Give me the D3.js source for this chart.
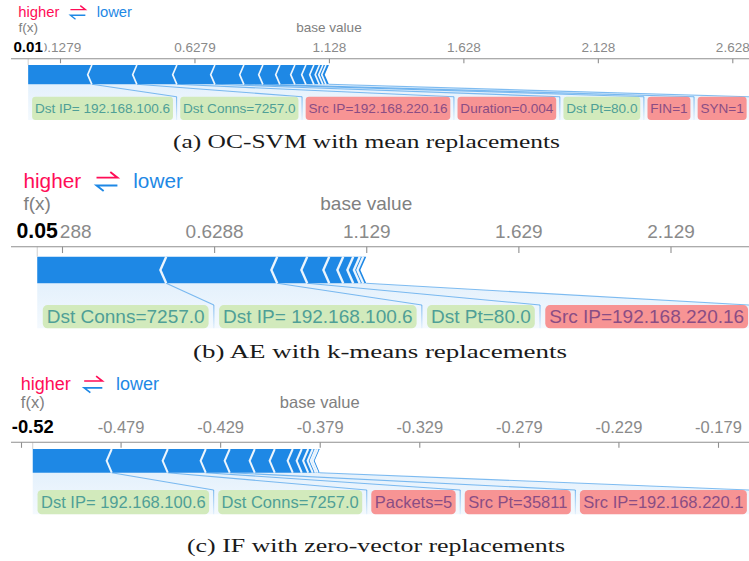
<!DOCTYPE html>
<html><head><meta charset="utf-8">
<script src="https://cdn.jsdelivr.net/npm/d3@7"></script>
<style>body{margin:0;background:#fff}svg{display:block}</style>
</head><body>
<svg id="chart" width="749" height="561"></svg>
<script>
// ---------------- data ----------------
const captions = ["(a) OC-SVM with mean replacements", "(b) AE with k-means replacements", "(c) IF with zero-vector replacements"];
const baseValues = [1.1279, 1.1288, -0.379];
const outputValues = [0.0095, 0.0474, -0.5231];
const outputLabels = ["0.01", "0.05", "-0.52"];

const tickValuesA = [0.1279, 0.6279, 1.1279, 1.6279, 2.1279, 2.6279];
const tickLabelsA = ["0.1279", "0.6279", "1.128", "1.628", "2.128", "2.628"];
const tickValuesB = [0.1288, 0.6288, 1.1288, 1.6288, 2.1288];
const tickLabelsB = ["0.1288", "0.6288", "1.129", "1.629", "2.129"];
const tickValuesC = [-0.529, -0.479, -0.429, -0.379, -0.329, -0.279, -0.229, -0.179];
const tickLabelsC = ["-0.529", "-0.479", "-0.429", "-0.379", "-0.329", "-0.279", "-0.229", "-0.179"];

// feature contributions (all pushing the output lower), largest first
const effectsA = [-0.2369, -0.1673, -0.1488, -0.1413, -0.1078, -0.0707, -0.0632, -0.0558, -0.0409, -0.0298, -0.0205, -0.0130, -0.0112, -0.0112];
const effectsB = [-0.4240, -0.3648, -0.0986, -0.0723, -0.0460, -0.0329, -0.0214, -0.0115, -0.0099];
const effectsC = [-0.03967, -0.02812, -0.01908, -0.01205, -0.01255, -0.01004, -0.00904, -0.00452, -0.00326, -0.00226, -0.00151, -0.00100, -0.00100];

const labelsA = ["Dst IP= 192.168.100.6", "Dst Conns=7257.0", "Src IP=192.168.220.16", "Duration=0.004", "Dst Pt=80.0", "FIN=1", "SYN=1"];
const kindsA = ["g", "g", "r", "r", "g", "r", "r"];
const labelsB = ["Dst Conns=7257.0", "Dst IP= 192.168.100.6", "Dst Pt=80.0", "Src IP=192.168.220.16"];
const kindsB = ["g", "g", "g", "r"];
const labelsC = ["Dst IP= 192.168.100.6", "Dst Conns=7257.0", "Packets=5", "Src Pt=35811", "Src IP=192.168.220.1"];
const kindsC = ["g", "g", "r", "r", "r"];

// ---------------- style / layout ----------------
const RED = "rgb(255,13,87)", BLUE = "rgb(30,136,229)";
const BOX = {g: {fill: "#d2eabc", text: "#4f9f96"}, r: {fill: "#f79494", text: "#8a4d84"}};
const FONT = "'Liberation Sans', Arial, Helvetica, sans-serif";
const SERIF = "'Liberation Serif', 'Times New Roman', serif";
const W = 749;
const layout = [
  {s: 1.13, x0: 60, x1: 732.3, hlY: 17, topY: 32, tickY: 52, axisY: 58.7, barTop: 65, barBot: 84.3, boxTop: 96.7, boxBot: 120, capY: 147.5, capX: 366.5, capW: 387, gap: 6.4},
  {s: 1.584, x0: 62, x1: 670.5, hlY: 188, topY: 210, tickY: 238, axisY: 246.7, barTop: 256.7, barBot: 283.3, boxTop: 305, boxBot: 328.3, capY: 358, capX: 380, capW: 374, gap: 6.6},
  {s: 1.375, x0: 21, x1: 718, hlY: 390, topY: 408, tickY: 433, axisY: 442.3, barTop: 449, barBot: 472.7, boxTop: 490, boxBot: 514.3, capY: 551.5, capX: 376, capW: 378, gap: 6.6}
];

const panels = [
  {ticks: tickValuesA, tickLabels: tickLabelsA, effects: effectsA, labels: labelsA, kinds: kindsA},
  {ticks: tickValuesB, tickLabels: tickLabelsB, effects: effectsB, labels: labelsB, kinds: kindsB},
  {ticks: tickValuesC, tickLabels: tickLabelsC, effects: effectsC, labels: labelsC, kinds: kindsC}
];

const svg = d3.select("#chart");
const defs = svg.append("defs");
const bg = defs.append("linearGradient").attr("id", "backGrad").attr("x1", 0).attr("y1", 0).attr("x2", 0).attr("y2", 1);
bg.append("stop").attr("offset", "0%").attr("stop-color", BLUE).attr("stop-opacity", 0.12);
bg.append("stop").attr("offset", "100%").attr("stop-color", BLUE).attr("stop-opacity", 0.05);
const dg = defs.append("linearGradient").attr("id", "divGrad").attr("x1", 0).attr("y1", 0).attr("x2", 0).attr("y2", 1);
dg.append("stop").attr("offset", "0%").attr("stop-color", BLUE).attr("stop-opacity", 0.55);
dg.append("stop").attr("offset", "100%").attr("stop-color", BLUE).attr("stop-opacity", 0.08);

function drawPanel(p, L, k) {
  const s = L.s;
  const g = svg.append("g");
  const x = d3.scaleLinear().domain([p.ticks[0], p.ticks[p.ticks.length - 1]]).range([L.x0, L.x1]);
  const fx = outputValues[k];
  const fxPx = x(fx);
  let cum = fx;
  const segs = p.effects.map(e => { const a = cum; cum += Math.abs(e); return {a, b: cum}; });
  const endPx = x(cum);
  const mid = (L.barTop + L.barBot) / 2;
  const sh = 3.7 * s;

  const gBack = g.append("g"), gLinks = g.append("g"), gBar = g.append("g"),
        gBoxes = g.append("g"), gAxis = g.append("g"), gTop = g.append("g");

  // ----- label boxes (packed left to right) -----
  const fs = 12 * s, pad = 2.5 * s, gap = L.gap * s;
  let cursor = fxPx + 3.5 * s;
  const boxes = [];
  p.labels.forEach((txt, i) => {
    const t = gBoxes.append("text").attr("font-family", FONT).attr("font-size", fs)
      .attr("fill", BOX[p.kinds[i]].text).text(txt);
    const w = t.node().getComputedTextLength();
    const bx = cursor, bw = w + 2 * pad;
    gBoxes.insert("rect", "text").attr("x", bx).attr("y", L.boxTop).attr("width", bw)
      .attr("height", L.boxBot - L.boxTop).attr("rx", 3 * s).attr("fill", BOX[p.kinds[i]].fill);
    t.attr("x", bx + pad).attr("y", (L.boxTop + L.boxBot) / 2 + 0.36 * fs);
    boxes.push({x: bx, w: bw});
    cursor += bw + gap;
  });
  const firstLeft = boxes[0].x - gap / 2;
  const lastB = boxes[boxes.length - 1];
  const rightEdge = Math.min(lastB.x + lastB.w + gap / 2, W);

  // ----- backing shade -----
  gBack.append("path").attr("d", d3.line()([
    [fxPx, L.barBot], [endPx, L.barBot], [rightEdge, L.boxTop], [rightEdge, L.boxBot],
    [Math.min(firstLeft, fxPx), L.boxBot], [Math.min(firstLeft, fxPx), L.boxTop]
  ]) + "Z").attr("fill", "url(#backGrad)");

  // ----- links & dividers -----
  boxes.forEach((b, i) => {
    const last = i === boxes.length - 1;
    const dx = last ? rightEdge : b.x + b.w + gap / 2;
    const sx = last ? endPx : x(segs[i].b);
    gLinks.append("line").attr("x1", sx).attr("y1", L.barBot).attr("x2", dx).attr("y2", L.boxTop)
      .attr("stroke", BLUE).attr("stroke-opacity", 0.55).attr("stroke-width", 1.1);
    if (!last) {
      gLinks.append("rect").attr("x", dx - 0.55).attr("y", L.boxTop).attr("width", 1.1)
        .attr("height", L.boxBot - L.boxTop).attr("fill", "url(#divGrad)");
    }
  });

  // ----- force bar -----
  gBar.selectAll("path.seg").data(segs).enter().append("path").attr("class", "seg")
    .attr("d", (d, i) => {
      const a = x(d.a), b = x(d.b);
      return d3.line()([[a, L.barTop], [b, L.barTop], [b - sh, mid], [b, L.barBot], [a, L.barBot], [i === 0 ? a : a - sh, mid]]) + "Z";
    })
    .attr("fill", BLUE);
  gBar.selectAll("path.sep").data(segs.slice(1)).enter().append("path").attr("class", "sep")
    .attr("d", d => { const a = x(d.a); return d3.line()([[a, L.barTop], [a - sh, mid], [a, L.barBot]]); })
    .attr("fill", "none").attr("stroke", "#fff").attr("stroke-opacity", 0.9).attr("stroke-width", 1.5 * s);

  // join point line
  gAxis.append("line").attr("x1", fxPx).attr("x2", fxPx).attr("y1", L.axisY).attr("y2", L.barTop)
    .attr("stroke", "#cfcfcf").attr("stroke-width", 1);

  // ----- axis -----
  gAxis.append("line").attr("x1", 11).attr("x2", W).attr("y1", L.axisY).attr("y2", L.axisY)
    .attr("stroke", "#8f8f8f").attr("stroke-width", 1.1);
  const ticksG = gAxis.append("g").attr("transform", `translate(0,${L.axisY})`)
    .call(d3.axisBottom(x).tickValues(p.ticks).tickFormat("").tickSize(4 * s).tickSizeOuter(0));
  ticksG.select(".domain").remove();
  ticksG.selectAll("line").attr("stroke", "#8f8f8f").attr("stroke-width", 1.1);
  const labG = gAxis.append("g").attr("transform", `translate(0,${L.tickY})`)
    .call(d3.axisTop(x).tickValues(p.ticks).tickFormat((d, i) => p.tickLabels[i]).tickSize(0).tickPadding(0));
  labG.select(".domain").remove();
  labG.selectAll("text").attr("font-family", FONT).attr("font-size", 12 * s).attr("fill", "#8a8a8a");

  // f(x) value label with white backing (hides the tick labels it sits on)
  const ofs = 13.4 * s;
  const ot = gTop.append("text").attr("x", fxPx).attr("y", L.tickY).attr("text-anchor", "middle")
    .attr("font-family", FONT).attr("font-size", ofs).attr("font-weight", "bold").attr("fill", "#000")
    .text(outputLabels[k]);
  const ow = ot.node().getComputedTextLength();
  gTop.insert("rect", "text").attr("x", 0).attr("y", L.tickY - ofs * 0.85)
    .attr("width", fxPx + ow / 2 + 1.5).attr("height", ofs * 1.05).attr("fill", "#fff");

  gTop.append("text").attr("x", fxPx).attr("y", L.topY).attr("text-anchor", "middle")
    .attr("font-family", FONT).attr("font-size", 12 * s).attr("fill", "#808080").text("f(x)");
  gTop.append("text").attr("x", x(baseValues[k])).attr("y", L.topY).attr("text-anchor", "middle")
    .attr("font-family", FONT).attr("font-size", 12 * s).attr("fill", "#808080").text("base value");

  // higher ⇄ lower
  const hfs = 13.1 * s;
  const hx = fxPx - 8.7 * s;
  const ht = gTop.append("text").attr("x", hx).attr("y", L.hlY).attr("font-family", FONT)
    .attr("font-size", hfs).attr("fill", RED).text("higher");
  const hw = ht.node().getComputedTextLength();
  const ax0 = hx + hw + 9.7 * s, ax1 = ax0 + 13.2 * s;
  const yT = L.hlY - 0.5 * hfs, yB = L.hlY - 0.12 * hfs;
  gTop.append("path").attr("d", d3.line()([[ax0, yT], [ax1, yT], [ax1 - 4.5 * s, yT - 3.5 * s]]))
    .attr("fill", "none").attr("stroke", RED).attr("stroke-width", 1.2 * s);
  gTop.append("path").attr("d", d3.line()([[ax1, yB], [ax0, yB], [ax0 + 4.5 * s, yB + 3.5 * s]]))
    .attr("fill", "none").attr("stroke", BLUE).attr("stroke-width", 1.2 * s);
  gTop.append("text").attr("x", ax1 + 10 * s).attr("y", L.hlY).attr("font-family", FONT)
    .attr("font-size", hfs).attr("fill", BLUE).text("lower");

  // caption
  svg.append("text").attr("x", L.capX).attr("y", L.capY).attr("text-anchor", "middle")
    .attr("font-family", SERIF).attr("font-size", 19.5).attr("fill", "#1a1a1a")
    .attr("textLength", L.capW).attr("lengthAdjust", "spacingAndGlyphs").text(captions[k]);
}

panels.forEach((p, k) => drawPanel(p, layout[k], k));
</script>
</body></html>
